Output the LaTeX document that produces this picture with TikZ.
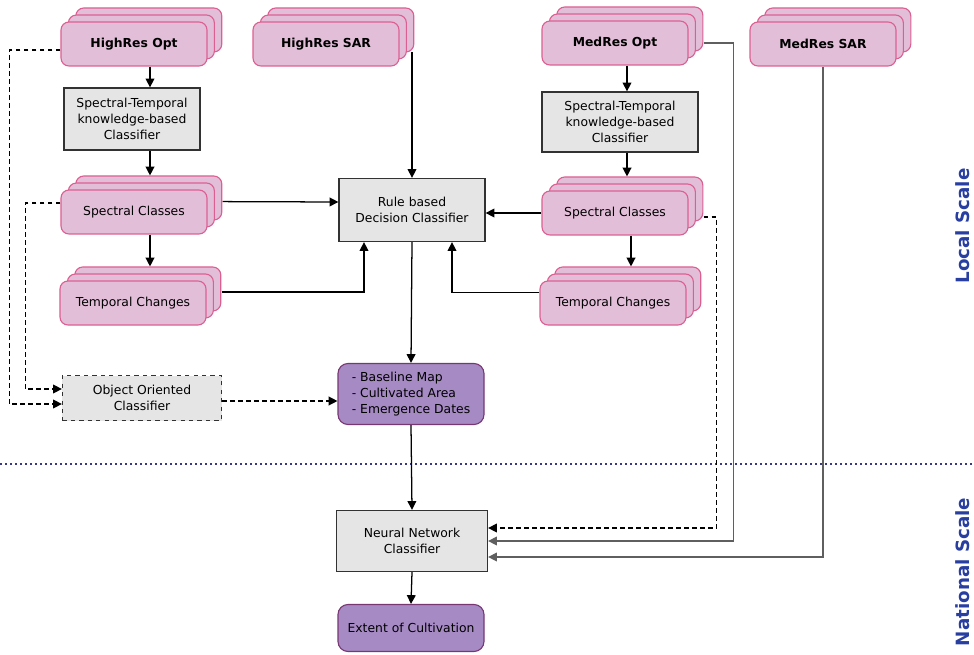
\documentclass[tikz,border=0pt]{standalone}
\usepackage{fontspec}
\setmainfont{DejaVu Sans}
\usetikzlibrary{arrows.meta, shadows}

\definecolor{pinkfill}{RGB}{226,190,216}
\definecolor{pinkline}{RGB}{220,95,145}
\definecolor{grayfill}{RGB}{229,229,229}
\definecolor{boxline}{RGB}{50,50,50}
\definecolor{purplefill}{RGB}{166,138,196}
\definecolor{purpleline}{RGB}{120,55,115}
\definecolor{linkgray}{RGB}{95,95,95}
\definecolor{scaleblue}{RGB}{40,62,160}
\definecolor{dotblue}{RGB}{55,55,140}

\begin{document}
\begin{tikzpicture}[
    x=0.25mm, y=-0.25mm,
    every node/.style={font=\fontsize{8.8}{11.4}\selectfont},
    stack/.style={rectangle, draw=pinkline, fill=pinkfill, line width=0.8pt,
                  rounded corners=2mm, minimum width=36.5mm, minimum height=11mm, align=center,
                  copy shadow={shadow xshift=3.7mm, shadow yshift=3.5mm, draw=pinkline, fill=pinkfill},
                  copy shadow={shadow xshift=1.85mm, shadow yshift=1.75mm, draw=pinkline, fill=pinkfill}},
    source/.style={stack, font=\fontsize{8.8}{11.4}\selectfont\bfseries},
    procbox/.style={rectangle, draw=boxline, fill=grayfill, line width=0.9pt,
                    minimum height=15.5mm, align=center},
    outbox/.style={rectangle, rounded corners=2.5mm, draw=purpleline, fill=purplefill,
                   line width=0.8pt, minimum width=36.5mm, align=center},
    arrow/.style={-{Triangle[length=2.2mm,width=2.2mm]}, line width=0.9pt},
    dasharrow/.style={arrow, dash pattern=on 1.2mm off 0.8mm},
    grayarrow/.style={arrow, draw=linkgray},
    scale label/.style={rotate=90, text=scaleblue, font=\fontsize{13}{13}\selectfont\bfseries}
]
\useasboundingbox (0,0) rectangle (974,655);

% Input data
\node[source] (hro) at (134,44) {HighRes Opt};
\node[source] (hrs) at (326,44) {HighRes SAR};
\node[source] (mro) at (615,43) {MedRes Opt};
\node[source] (mrs) at (823,44) {MedRes SAR};

% Knowledge-based classifiers
\node[procbox, minimum width=34mm] (stl) at (132,119) {Spectral-Temporal\\knowledge-based\\Classifier};
\node[procbox, minimum width=39mm, minimum height=15mm] (str) at (620,122) {Spectral-Temporal\\knowledge-based\\Classifier};

% Spectral classes and temporal changes
\node[stack] (scl) at (134,212) {Spectral Classes};
\node[stack] (tcl) at (133,303) {Temporal Changes};
\node[stack] (scr) at (615,213) {Spectral Classes};
\node[stack] (tcr) at (613,303) {Temporal Changes};

% Decision classifiers
\node[procbox, minimum width=36.5mm, minimum height=15.75mm] (rule) at (412,210) {Rule based\\Decision Classifier};
\node[procbox, dashed, minimum width=39.75mm, minimum height=11.25mm] (ooc) at (142,398) {Object Oriented\\Classifier};

% Products
\node[outbox, minimum height=15.25mm, align=left] (base) at (411,394) {- Baseline Map\\- Cultivated Area\\- Emergence Dates};
\node[procbox, minimum width=37.75mm, minimum height=15.25mm] (nn) at (412,541) {Neural Network\\Classifier};
\node[outbox, minimum height=11.75mm] (ext) at (411,628) {Extent of Cultivation};

% Scale separation
\draw[dotblue, line width=0.55mm, dash pattern=on 0.6mm off 0.65mm] (0,464) -- (974,464);
\node[scale label] (local) at (963,226) {Local Scale};
\node[scale label] (national) at (963,572) {National Scale};

% Vertical flow, left
\draw[arrow] ([xshift=4mm]hro.south) -- ([xshift=4mm]hro.south |- stl.north);
\draw[arrow] ([xshift=4.5mm]stl.south) -- ([xshift=4.5mm,yshift=3.5mm]stl.south |- scl.north);
\draw[arrow] ([xshift=4mm]scl.south) -- ([xshift=4mm,yshift=3.5mm]scl.south |- tcl.north);

% Vertical flow, right
\draw[arrow] ([xshift=3mm]mro.south) -- ([xshift=3mm]mro.south |- str.north);
\draw[arrow] ([xshift=1.75mm]str.south) -- ([xshift=1.75mm,yshift=3.5mm]str.south |- scr.north);
\draw[arrow] ([xshift=4mm]scr.south) -- ([xshift=4mm,yshift=3.5mm]scr.south |- tcr.north);

% Into the rule based classifier
\draw[arrow] ([yshift=3.6mm]hrs.south -| rule.north) -- (rule.north);
\draw[arrow] ([xshift=3.75mm,yshift=2.6mm]scl.east) -- ([yshift=2mm]rule.west);
\draw[arrow] ([xshift=3.75mm,yshift=2.75mm]tcl.east) -| ([xshift=-12mm]rule.south);
\draw[arrow] (scr.west) -- (scr.west -| rule.east);
\draw[arrow] ([yshift=2.6mm]tcr.west) -| ([xshift=10mm]rule.south);

% Object oriented branch
\draw[dasharrow] ([yshift=-1.5mm]hro.west) -- ++(-51,0) |- ([yshift=-1.5mm]ooc.west);
\draw[dasharrow] ([yshift=2.25mm]scl.west) -- ++(-35,0) |- ([yshift=2.25mm]ooc.west);
\draw[dasharrow] ([yshift=-0.75mm]ooc.east) -- ([yshift=-0.75mm]ooc.east -| base.west);

% Down to national scale
\draw[arrow] (rule.south) -- (base.north);
\draw[arrow] (base.south) -- (nn.north);
\draw[arrow] (nn.south) -- (ext.north);

% Medium resolution links into the neural network
\draw[dasharrow] ([xshift=3.75mm,yshift=-1mm]scr.east) -- ++(13,0) |- ([yshift=3.25mm]nn.east);
\draw[grayarrow] ([xshift=3.75mm]mro.east) -- ++(30,0) |- (nn.east);
\draw[grayarrow] (mrs.south) |- ([yshift=-4mm]nn.east);

\end{tikzpicture}
\end{document}
